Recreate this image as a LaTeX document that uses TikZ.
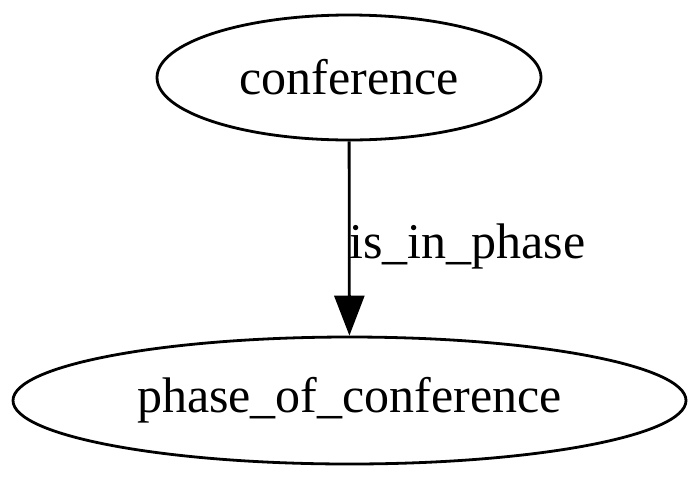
\documentclass[tikz,border=0pt]{standalone}
\usepackage{fontspec}
\setmainfont{Liberation Serif}
\usetikzlibrary{shapes.geometric,arrows.meta}
\begin{document}
\begin{tikzpicture}[x=1pt,y=1pt,
  ell/.style={draw,ellipse,line width=2.8pt,inner sep=0pt,font=\fontsize{50}{50}\selectfont},
  lbl/.style={font=\fontsize{50}{50}\selectfont,inner sep=0pt,anchor=base west}]
\useasboundingbox (0,0) rectangle (700,-480);
\node[ell,minimum width=384,minimum height=125] (a) at (349,-77.5) {conference};
\node[ell,minimum width=673,minimum height=127] (b) at (349.5,-400.5) {phase\_of\_conference};
\draw[line width=2.8pt,-{Triangle[length=40pt,width=30pt]}] (a) -- (b);
\node[lbl] (l) at (349,-258) {is\_in\_phase};
\end{tikzpicture}
\end{document}
